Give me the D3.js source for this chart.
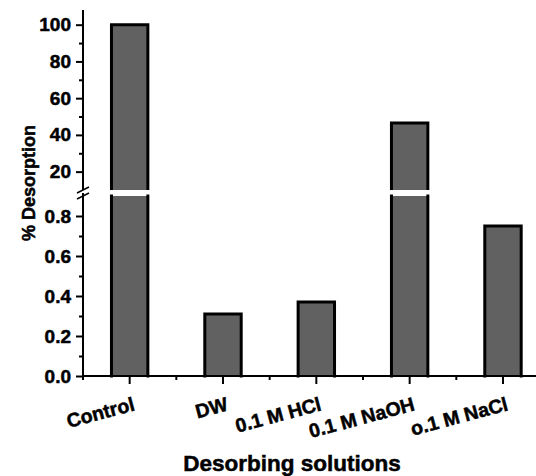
<!DOCTYPE html>
<html>
<head>
<meta charset="utf-8">
<script src="https://cdn.jsdelivr.net/npm/d3@7"></script>
<style>
  html, body { margin: 0; padding: 0; background: #fff; }
  svg { display: block; }
  text { font-family: "Liberation Sans", Arial, sans-serif; font-weight: bold; fill: #000; stroke: #000; stroke-width: 0.5px; }
</style>
</head>
<body>
<svg id="chart" width="536" height="476"></svg>
<script>
// Desorption of each solution, in % of the control
const categories = ["Control", "DW", "0.1 M HCl", "0.1 M NaOH", "o.1 M NaCl"];
const desorption = [100, 0.31, 0.37, 46.5, 0.75];

// Broken y axis: a low segment and a high segment
const lowTicks = [0.0, 0.2, 0.4, 0.6, 0.8];
const lowTickLabels = ["0.0", "0.2", "0.4", "0.6", "0.8"];
const lowMinor = [0.1, 0.3, 0.5, 0.7];
const highTicks = [20, 40, 60, 80, 100];
const highTickLabels = ["20", "40", "60", "80", "100"];
const highMinor = [30, 50, 70, 90];
const lowDomain = [0, 0.9];
const highDomain = [10, 108];

const svg = d3.select("#chart");
const axisX = 83;
const baseY = 376;
const lowTop = 196, highBottom = 190, highTop = 10;

const yLow = d3.scaleLinear().domain(lowDomain).range([baseY, lowTop]);
const yHigh = d3.scaleLinear().domain(highDomain).range([highBottom, highTop]);

const step = 93.33;
const x = d3.scaleBand().domain(categories).range([axisX, axisX + step * categories.length]).padding(0);
const barW = x.bandwidth() * 0.39;
const fillColor = "#616161";
const strokeW = 3;

const g = svg.append("g");

// Bars, split across the break where needed
categories.forEach((c, i) => {
  const v = desorption[i];
  const cx = x(c) + x.bandwidth() / 2;
  const x0 = cx - barW / 2, x1 = cx + barW / 2;
  // low segment
  const lowV = Math.min(v, lowDomain[1]);
  const yl = yLow(lowV);
  g.append("rect").attr("x", x0).attr("y", yl).attr("width", barW).attr("height", baseY - yl)
    .attr("fill", fillColor);
  const lowPath = d3.path();
  lowPath.moveTo(x0, baseY);
  lowPath.lineTo(x0, yl);
  if (v <= lowDomain[1]) lowPath.lineTo(x1, yl); else lowPath.moveTo(x1, yl);
  lowPath.lineTo(x1, baseY);
  g.append("path").attr("d", lowPath.toString()).attr("fill", "none")
    .attr("stroke", "#000").attr("stroke-width", strokeW).attr("stroke-linecap", "square");
  // high segment
  if (v > highDomain[0]) {
    const yh = yHigh(v);
    g.append("rect").attr("x", x0).attr("y", yh).attr("width", barW).attr("height", highBottom - yh)
      .attr("fill", fillColor);
    const hp = d3.path();
    hp.moveTo(x0, highBottom);
    hp.lineTo(x0, yh);
    hp.lineTo(x1, yh);
    hp.lineTo(x1, highBottom);
    g.append("path").attr("d", hp.toString()).attr("fill", "none")
      .attr("stroke", "#000").attr("stroke-width", strokeW).attr("stroke-linejoin", "miter");
  }
});

// Y axis: low segment
const lowAxis = svg.append("g").attr("transform", `translate(${axisX},0)`)
  .call(d3.axisLeft(yLow).tickValues(lowTicks).tickFormat((d, i) => lowTickLabels[i]).tickSize(7).tickPadding(5));
lowAxis.select(".domain").remove();
svg.append("g").attr("transform", `translate(${axisX},0)`)
  .call(d3.axisLeft(yLow).tickValues(lowMinor).tickFormat("").tickSize(4))
  .select(".domain").remove();

// Y axis: high segment
const highAxis = svg.append("g").attr("transform", `translate(${axisX},0)`)
  .call(d3.axisLeft(yHigh).tickValues(highTicks).tickFormat((d, i) => highTickLabels[i]).tickSize(7).tickPadding(5));
highAxis.select(".domain").remove();
svg.append("g").attr("transform", `translate(${axisX},0)`)
  .call(d3.axisLeft(yHigh).tickValues(highMinor).tickFormat("").tickSize(4))
  .select(".domain").remove();

svg.selectAll(".tick line").attr("stroke", "#000").attr("stroke-width", 2);
svg.selectAll(".tick text").style("font-size", "19px").style("font-family", "'Liberation Sans', Arial, sans-serif").style("font-weight", "bold");

// Y axis lines with break marks
svg.append("line").attr("x1", axisX).attr("x2", axisX).attr("y1", highTop).attr("y2", highBottom)
  .attr("stroke", "#000").attr("stroke-width", 2);
svg.append("line").attr("x1", axisX).attr("x2", axisX).attr("y1", lowTop - 3).attr("y2", baseY + 1)
  .attr("stroke", "#000").attr("stroke-width", 2);
[[77, 193, 89, 187], [77, 199, 89, 193]].forEach(([a, b, c, d]) => {
  svg.append("line").attr("x1", a).attr("y1", b).attr("x2", c).attr("y2", d)
    .attr("stroke", "#000").attr("stroke-width", 1.5);
});

// X axis
const xAxis = svg.append("g").attr("transform", `translate(0,${baseY})`)
  .call(d3.axisBottom(x).tickSize(8).tickFormat(""));
xAxis.select(".domain").attr("d", `M${axisX - 1},0H${axisX + step * categories.length}`)
  .attr("stroke", "#000").attr("stroke-width", 2);
xAxis.selectAll(".tick line").attr("stroke", "#000").attr("stroke-width", 2);
// minor ticks at band edges
xAxis.selectAll(".minor").data(categories).enter().append("line")
  .attr("x1", d => x(d)).attr("x2", d => x(d)).attr("y1", 0).attr("y2", 4)
  .attr("stroke", "#000").attr("stroke-width", 2);

// Rotated category labels
svg.append("g").selectAll("text").data(categories).enter().append("text")
  .attr("transform", d => `translate(${x(d) + x.bandwidth() / 2 + 6},410) rotate(-15)`)
  .attr("text-anchor", "end")
  .style("font-size", "19.5px")
  .text(d => d);

// Axis titles
svg.append("text").attr("transform", "translate(35,183) rotate(-90)")
  .attr("text-anchor", "middle").style("font-size", "18px").text("% Desorption");
svg.append("text").attr("x", 292).attr("y", 471)
  .attr("text-anchor", "middle").style("font-size", "22.5px").text("Desorbing solutions");
</script>
</body>
</html>
